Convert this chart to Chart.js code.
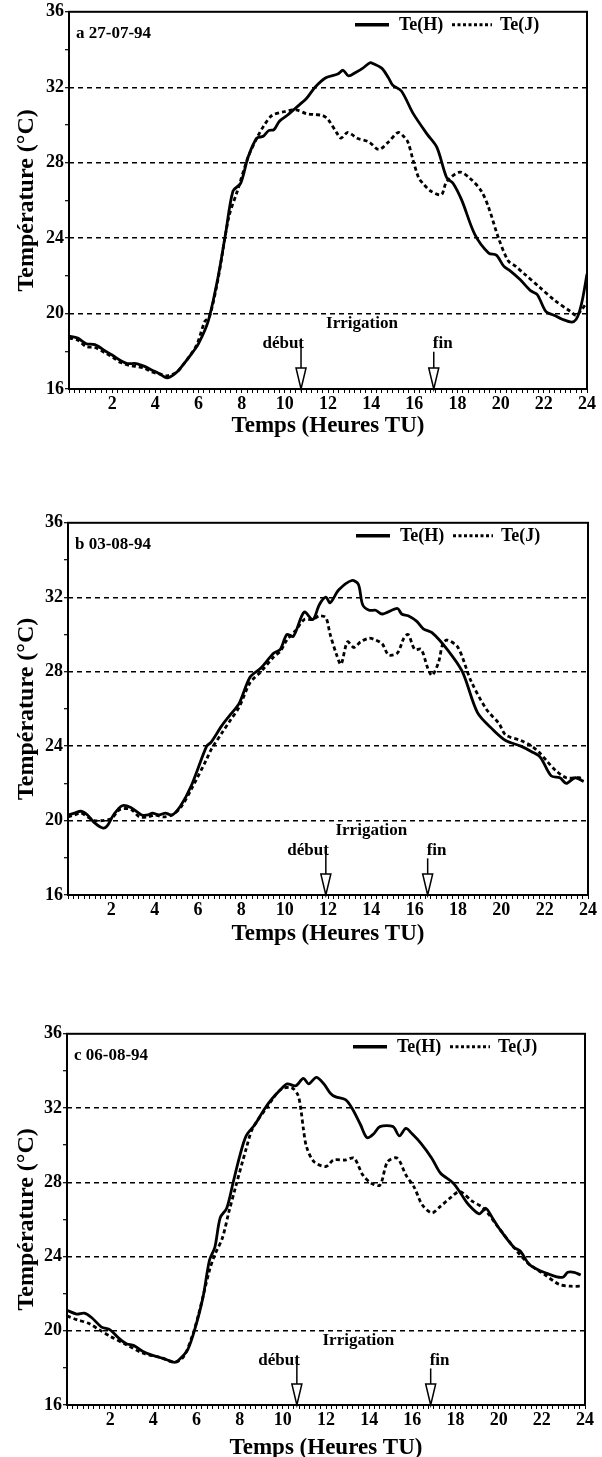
<!DOCTYPE html>
<html>
<head>
<meta charset="utf-8">
<script src="https://cdn.jsdelivr.net/npm/chart.js@4.4.1/dist/chart.umd.min.js"></script>
<style>
    html, body { margin: 0; padding: 0; background: #fff; width: 602px; height: 1457px; overflow: hidden; }
    canvas { position: absolute; left: 0; }
</style>
</head>
<body>
<canvas id="chartA" width="602" height="440" style="top:0px"></canvas>
<canvas id="chartB" width="602" height="437" style="top:511px"></canvas>
<canvas id="chartC" width="602" height="440" style="top:1022px"></canvas>
<script>
const FONT = "'Liberation Serif', 'Times New Roman', serif";

// Panel a : 27-07-94
const hoursA_H = [0, 0.4, 0.8, 1.2, 1.7, 2.0, 2.4, 2.7, 3.1, 3.5, 3.85, 4.2, 4.5, 4.7, 5.0, 5.3, 5.7, 6.0, 6.45, 6.9, 7.25, 7.6, 7.95, 8.3, 8.7, 9.0, 9.25, 9.5, 9.75, 10.1, 10.5, 11.0, 11.4, 11.9, 12.45, 12.7, 12.95, 13.3, 13.6, 13.95, 14.1, 14.5, 14.8, 15.0, 15.4, 15.95, 16.6, 17.05, 17.5, 17.8, 18.2, 18.8, 19.45, 19.8, 20.15, 20.4, 20.9, 21.4, 21.7, 22.1, 22.5, 22.85, 23.3, 23.5, 23.65, 23.8, 24.0];
const tempA_H  = [18.8, 18.7, 18.4, 18.35, 18.0, 17.8, 17.5, 17.35, 17.35, 17.2, 17.0, 16.8, 16.6, 16.65, 16.9, 17.3, 17.9, 18.4, 19.6, 21.9, 24.2, 26.5, 26.9, 28.3, 29.3, 29.4, 29.7, 29.75, 30.2, 30.5, 30.9, 31.4, 32.0, 32.5, 32.7, 32.9, 32.6, 32.8, 33.0, 33.3, 33.25, 33.0, 32.5, 32.1, 31.8, 30.6, 29.5, 28.8, 27.2, 26.9, 26.0, 24.2, 23.2, 23.1, 22.5, 22.3, 21.8, 21.2, 21.0, 20.1, 19.9, 19.7, 19.55, 19.7, 20.1, 20.8, 22.1];
const hoursA_J = [0, 0.4, 0.8, 1.2, 1.7, 2.0, 2.4, 2.8, 3.1, 3.5, 3.85, 4.2, 4.55, 5.0, 5.3, 5.9, 6.3, 6.5, 6.9, 7.4, 7.8, 8.3, 8.7, 9.05, 9.4, 9.95, 10.5, 11.0, 11.4, 11.75, 12.0, 12.45, 12.6, 12.9, 13.1, 13.35, 13.9, 14.35, 14.8, 15.25, 15.5, 15.7, 15.95, 16.2, 16.4, 16.75, 17.25, 17.5, 18.1, 18.55, 19.1, 19.45, 19.9, 20.35, 20.7, 21.1, 21.8, 22.5, 23.25, 23.5, 23.75, 24.0];
const tempA_J  = [18.7, 18.6, 18.25, 18.2, 17.9, 17.7, 17.4, 17.25, 17.2, 17.1, 16.9, 16.8, 16.7, 16.9, 17.3, 18.3, 19.6, 19.8, 21.8, 25.1, 26.5, 28.3, 29.3, 30.0, 30.5, 30.7, 30.8, 30.6, 30.55, 30.5, 30.3, 29.5, 29.3, 29.6, 29.5, 29.3, 29.1, 28.7, 29.1, 29.6, 29.4, 29.1, 28.1, 27.2, 26.9, 26.5, 26.3, 27.0, 27.5, 27.2, 26.5, 25.6, 24.0, 22.8, 22.5, 22.1, 21.4, 20.7, 20.1, 19.9, 20.2, 20.6];

// Panel b : 03-08-94
const hoursB_H = [0, 0.3, 0.6, 0.9, 1.2, 1.6, 1.8, 2.1, 2.5, 2.9, 3.4, 3.7, 3.9, 4.2, 4.5, 4.8, 5.2, 5.7, 6.4, 6.6, 7.1, 7.5, 7.9, 8.4, 8.9, 9.5, 9.8, 10.1, 10.4, 10.9, 11.3, 11.6, 11.9, 12.1, 12.5, 13.1, 13.4, 13.6, 13.9, 14.2, 14.5, 15.2, 15.4, 15.7, 16.1, 16.4, 16.8, 17.5, 18.2, 18.9, 19.6, 20.2, 20.9, 21.4, 21.8, 22.3, 22.7, 23.0, 23.4, 23.8];
const tempB_H  = [20.3, 20.4, 20.5, 20.3, 19.9, 19.6, 19.7, 20.3, 20.8, 20.7, 20.3, 20.3, 20.4, 20.3, 20.4, 20.3, 20.8, 21.9, 24.0, 24.2, 25.1, 25.7, 26.3, 27.7, 28.2, 29.0, 29.2, 30.0, 29.9, 31.2, 30.8, 31.6, 32.0, 31.7, 32.4, 32.9, 32.7, 31.6, 31.3, 31.3, 31.1, 31.4, 31.1, 31.0, 30.7, 30.3, 30.1, 29.2, 28.0, 25.8, 24.9, 24.3, 24.0, 23.7, 23.4, 22.4, 22.3, 22.0, 22.3, 22.1];
const hoursB_J = [0, 0.3, 0.6, 0.9, 1.2, 1.6, 2.0, 2.4, 2.9, 3.3, 3.7, 4.0, 4.4, 4.8, 5.2, 5.7, 6.4, 6.6, 7.1, 7.5, 7.9, 8.4, 8.9, 9.5, 9.8, 10.1, 10.5, 10.9, 11.3, 11.6, 11.9, 12.1, 12.4, 12.6, 12.9, 13.2, 13.5, 13.9, 14.2, 14.5, 14.8, 15.2, 15.5, 15.7, 16.0, 16.3, 16.6, 16.8, 17.1, 17.3, 17.5, 18.0, 18.6, 19.3, 19.9, 20.2, 20.9, 21.4, 21.8, 22.1, 22.5, 23.0, 23.6, 23.8];
const tempB_J  = [20.2, 20.3, 20.4, 20.2, 20.0, 20.0, 20.1, 20.6, 20.6, 20.2, 20.2, 20.3, 20.2, 20.3, 20.7, 21.7, 23.3, 23.8, 24.7, 25.4, 26.1, 27.4, 28.0, 28.8, 29.1, 29.7, 30.2, 30.8, 30.8, 31.0, 30.9, 30.0, 28.9, 28.4, 29.6, 29.3, 29.6, 29.8, 29.7, 29.5, 28.9, 29.0, 29.8, 30.0, 29.2, 29.2, 28.2, 27.8, 28.5, 29.5, 29.7, 29.3, 27.5, 26.0, 25.2, 24.6, 24.3, 24.0, 23.6, 23.2, 22.7, 22.3, 22.3, 22.2];

// Panel c : 06-08-94
const hoursC_H = [0, 0.45, 0.8, 1.15, 1.6, 2.0, 2.4, 2.75, 3.1, 3.5, 3.9, 4.2, 4.6, 5.0, 5.25, 5.6, 5.95, 6.3, 6.6, 6.85, 7.1, 7.4, 7.7, 8.0, 8.3, 8.7, 9.15, 9.5, 9.9, 10.2, 10.6, 10.95, 11.2, 11.55, 11.9, 12.2, 12.45, 12.9, 13.2, 13.6, 13.9, 14.2, 14.5, 15.1, 15.4, 15.7, 16.0, 16.4, 16.9, 17.3, 17.9, 18.3, 18.6, 19.1, 19.4, 19.7, 20.0, 20.7, 21.0, 21.4, 21.8, 22.1, 22.7, 23.0, 23.2, 23.5, 23.8];
const tempC_H  = [21.1, 20.9, 20.95, 20.7, 20.2, 20.05, 19.6, 19.3, 19.2, 18.9, 18.7, 18.6, 18.45, 18.3, 18.5, 19.0, 20.2, 21.8, 23.8, 24.5, 26.1, 26.6, 28.0, 29.4, 30.5, 31.1, 31.95, 32.5, 33.0, 33.3, 33.2, 33.6, 33.3, 33.65, 33.3, 32.8, 32.6, 32.45, 32.0, 31.1, 30.4, 30.6, 31.0, 31.0, 30.5, 30.9, 30.6, 30.1, 29.3, 28.5, 27.95, 27.3, 26.8, 26.3, 26.6, 26.1, 25.55, 24.5, 24.3, 23.6, 23.3, 23.15, 22.9, 22.9, 23.15, 23.15, 23.0];
const hoursC_J = [0, 0.45, 1.0, 1.5, 2.0, 2.75, 3.5, 4.35, 5.0, 5.4, 5.8, 6.1, 6.6, 6.85, 7.2, 7.5, 7.8, 8.3, 8.6, 9.3, 9.9, 10.4, 10.7, 10.85, 10.95, 11.1, 11.45, 12.0, 12.35, 12.9, 13.3, 13.7, 14.1, 14.5, 14.85, 15.3, 15.7, 16.1, 16.45, 16.9, 17.3, 17.8, 18.2, 18.75, 19.3, 20.0, 20.7, 21.4, 22.1, 22.8, 23.35, 23.8];
const tempC_J  = [20.8, 20.6, 20.4, 20.05, 19.7, 19.25, 18.8, 18.55, 18.3, 18.6, 19.7, 20.9, 23.25, 24.1, 25.0, 26.4, 27.7, 29.8, 30.9, 32.1, 33.0, 33.1, 32.7, 31.8, 30.9, 29.9, 29.1, 28.85, 29.2, 29.2, 29.3, 28.4, 27.95, 27.85, 29.1, 29.3, 28.4, 27.7, 26.8, 26.35, 26.7, 27.2, 27.5, 27.0, 26.6, 25.55, 24.5, 23.6, 23.05, 22.5, 22.4, 22.4];

const panelLabels = ['a 27-07-94', 'b 03-08-94', 'c 06-08-94'];
const irrigStart = [10.75, 11.9, 10.65];   // début (h)
const irrigEnd = [16.9, 16.6, 16.85];      // fin (h)
const seriesNames = ['Te(H)', 'Te(J)'];

const toPoints = (xs, ys) => xs.map((x, i) => ({ x: x, y: ys[i] }));

// Frame, legend, panel label and irrigation arrows
const decorations = {
    id: 'decorations',
    afterDraw(chart, args, opts) {
        const { ctx, chartArea: a, scales: { x, y } } = chart;
        ctx.save();
        ctx.strokeStyle = '#000';
        ctx.fillStyle = '#000';

        // frame
        ctx.lineWidth = 2;
        ctx.strokeRect(a.left, a.top, a.right - a.left, a.bottom - a.top);

        // panel label
        ctx.font = `bold 17px ${FONT}`;
        ctx.textBaseline = 'middle';
        ctx.textAlign = 'left';
        ctx.fillText(opts.label, a.left + 7, a.top + 22);

        // legend
        const ly = a.top + 13;
        ctx.font = `bold 18px ${FONT}`;
        ctx.lineWidth = 3.5;
        ctx.beginPath();
        ctx.moveTo(a.right - 232, ly);
        ctx.lineTo(a.right - 198, ly);
        ctx.stroke();
        ctx.fillText(seriesNames[0], a.right - 188, ly + 1);
        ctx.lineWidth = 3;
        ctx.setLineDash([3, 2.5]);
        ctx.beginPath();
        ctx.moveTo(a.right - 135, ly);
        ctx.lineTo(a.right - 95, ly);
        ctx.stroke();
        ctx.setLineDash([]);
        ctx.fillText(seriesNames[1], a.right - 87, ly + 1);

        // irrigation
        const xs = x.getPixelForValue(opts.start);
        const xe = x.getPixelForValue(opts.end);
        const xm = x.getPixelForValue((opts.start + opts.end) / 2 - 0.25);
        ctx.font = `bold 17px ${FONT}`;
        ctx.textAlign = 'center';
        ctx.fillText('Irrigation', xm, y.getPixelForValue(19.45));
        const yl = y.getPixelForValue(18.4);
        ctx.textAlign = 'right';
        ctx.fillText('début', xs + 3, yl);
        ctx.textAlign = 'left';
        ctx.fillText('fin', xe - 1, yl);

        const arrow = (px, top) => {
            const tipY = a.bottom;
            const headTop = tipY - 21;
            ctx.lineWidth = 1.5;
            ctx.beginPath();
            ctx.moveTo(px, top);
            ctx.lineTo(px, headTop);
            ctx.stroke();
            ctx.beginPath();
            ctx.moveTo(px - 5, headTop);
            ctx.lineTo(px + 5, headTop);
            ctx.lineTo(px, tipY);
            ctx.closePath();
            ctx.fillStyle = '#fff';
            ctx.fill();
            ctx.stroke();
            ctx.fillStyle = '#000';
        };
        arrow(xs, yl - 5);
        arrow(xe, yl + 8);
        ctx.restore();
    }
};

function makeChart(canvasId, idx, dataH, dataJ, box) {
    const tickFont = { family: FONT, size: 18, weight: 'bold' };
    return new Chart(document.getElementById(canvasId), {
        type: 'line',
        data: {
            datasets: [
                {
                    label: seriesNames[0],
                    data: dataH,
                    borderColor: '#000',
                    borderWidth: 2.8,
                    pointRadius: 0,
                    tension: 0.3,
                    fill: false
                },
                {
                    label: seriesNames[1],
                    data: dataJ,
                    borderColor: '#000',
                    borderWidth: 2.8,
                    borderDash: [4, 3],
                    pointRadius: 0,
                    tension: 0.3,
                    fill: false
                }
            ]
        },
        options: {
            responsive: false,
            animation: false,
            events: [],
            layout: { padding: { top: 10, left: 0, right: 602 - box.right, bottom: 0 } },
            scales: {
                x: {
                    type: 'linear',
                    min: 0,
                    max: 24,
                    afterFit: (s) => { s.height = box.xHeight; },
                    ticks: {
                        stepSize: 0.25,
                        maxTicksLimit: 200,
                        autoSkip: false,
                        maxRotation: 0,
                        minRotation: 0,
                        padding: 1,
                        color: '#000',
                        font: tickFont,
                        callback: (v) => (v > 0 && v % 2 === 0 ? v : '')
                    },
                    grid: {
                        drawOnChartArea: false,
                        color: '#000',
                        tickLength: 4,
                        tickWidth: 1
                    },
                    border: { display: false },
                    title: {
                        display: true,
                        text: 'Temps (Heures TU)',
                        color: '#000',
                        font: { family: FONT, size: 23, weight: 'bold' },
                        padding: { top: 0, bottom: 0 }
                    }
                },
                y: {
                    min: 16,
                    max: 36,
                    afterFit: (s) => { s.width = box.left; },
                    ticks: {
                        stepSize: 2,
                        padding: 1,
                        color: '#000',
                        font: tickFont,
                        callback: (v) => (v % 4 === 0 ? v : '')
                    },
                    grid: {
                        color: (c) => (c.tick && c.tick.value % 4 === 0 && c.tick.value > 16 && c.tick.value < 36 ? '#000' : 'rgba(0,0,0,0)'),
                        lineWidth: 1.4,
                        tickColor: '#000',
                        tickLength: 4,
                        tickWidth: 1.2,
                        tickBorderDash: []
                    },
                    border: { display: false, dash: [5, 4] },
                    title: {
                        display: true,
                        text: 'Température (°C)',
                        color: '#000',
                        font: { family: FONT, size: 24, weight: 'bold' },
                        padding: { top: 12, bottom: 0 }
                    }
                }
            },
            plugins: {
                legend: { display: false },
                tooltip: { enabled: false },
                decorations: { label: panelLabels[idx], start: irrigStart[idx], end: irrigEnd[idx] }
            }
        },
        plugins: [decorations]
    });
}

makeChart('chartA', 0, toPoints(hoursA_H, tempA_H), toPoints(hoursA_J, tempA_J), { left: 69, right: 587, xHeight: 51 });
makeChart('chartB', 1, toPoints(hoursB_H, tempB_H), toPoints(hoursB_J, tempB_J), { left: 68, right: 588, xHeight: 53 });
makeChart('chartC', 2, toPoints(hoursC_H, tempC_H), toPoints(hoursC_J, tempC_J), { left: 67, right: 585, xHeight: 57 });
</script>
</body>
</html>
